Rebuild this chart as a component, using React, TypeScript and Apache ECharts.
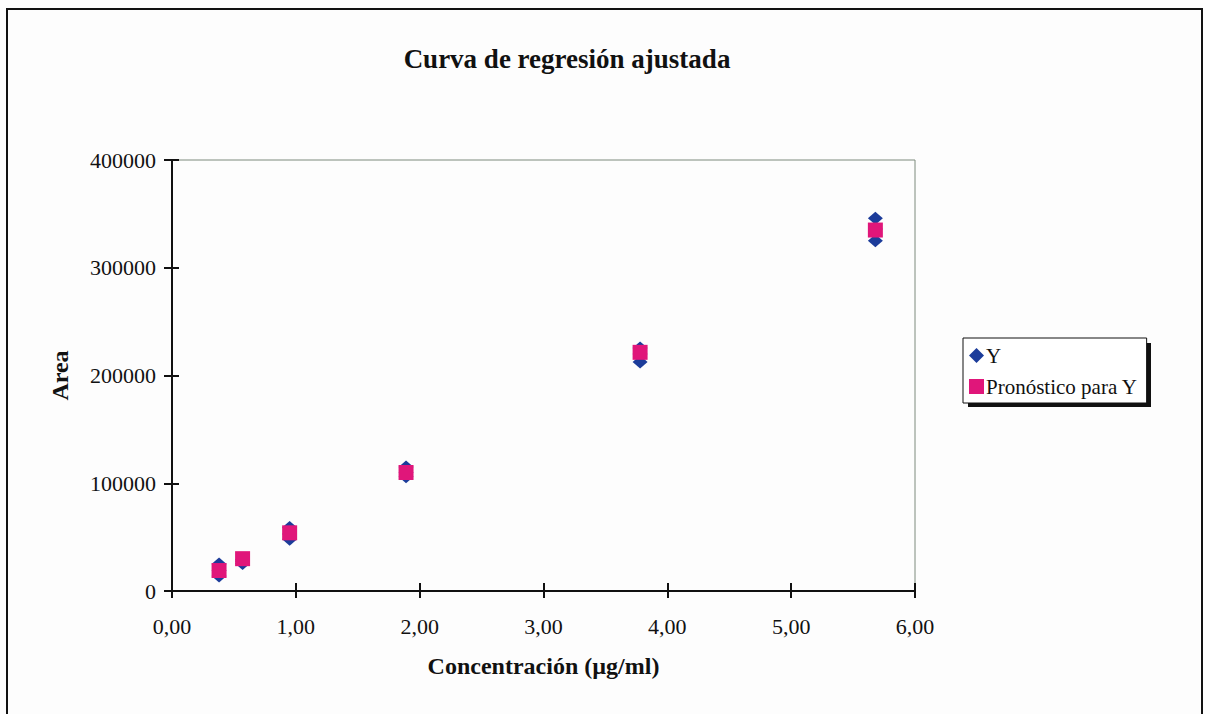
import React, { useEffect, useRef } from "react";
import * as echarts from "echarts";

const concentrations = [0.38, 0.57, 0.95, 1.89, 3.78, 5.68];
const areaRep1 = [25000, 25500, 59000, 115000, 225500, 346000];
const areaRep2 = [14000, 27500, 48000, 106000, 212500, 325000];
const areaRep3 = [19000, 29000, 53000, 110000, 220000, 336000];
const predicted = [19000, 30000, 54000, 110000, 221500, 335000];
const xTicks = [0, 1, 2, 3, 4, 5, 6];
const yTicks = [0, 100000, 200000, 300000, 400000];

const FONT = "'Liberation Serif', 'Times New Roman', serif";
const BLUE = "#1c3c9a";
const PINK = "#e0167a";

export default function App() {
  const ref = useRef<HTMLDivElement>(null);
  useEffect(() => {
    if (!ref.current) return;
    const chart = echarts.init(ref.current, undefined, { renderer: "svg" });
    const observed: number[][] = [];
    [areaRep1, areaRep2, areaRep3].forEach((rep) =>
      rep.forEach((v, i) => observed.push([concentrations[i], v]))
    );
    const pred = predicted.map((v, i) => [concentrations[i], v]);
    const xMin = xTicks[0];
    const xMax = xTicks[xTicks.length - 1];
    const yMin = yTicks[0];
    const yMax = yTicks[yTicks.length - 1];
    const xCommon = { type: "value", min: xMin, max: xMax, interval: 1, position: "bottom" };
    const yCommon = { type: "value", min: yMin, max: yMax, interval: 100000, position: "left" };
    const tickStyle = { color: "#111", width: 2 };
    chart.setOption({
      animation: false,
      backgroundColor: "#fdfdfd",
      title: {
        text: "Curva de regresión ajustada",
        left: 562,
        top: 40,
        textAlign: "center",
        textStyle: { fontFamily: FONT, fontWeight: "bold", fontSize: 27, color: "#111" },
      },
      legend: {
        orient: "vertical",
        left: 963,
        top: 338,
        padding: [7, 9, 6, 6],
        itemGap: 10,
        itemWidth: 15,
        itemHeight: 15,
        backgroundColor: "#ffffff",
        borderColor: "#111",
        borderWidth: 1,
        z: 10,
        textStyle: { fontFamily: FONT, fontSize: 21, color: "#111", padding: [0, 0, 0, -3] },
        data: [
          { name: "Y", icon: "diamond" },
          { name: "Pronóstico para Y", icon: "rect" },
        ],
      },
      graphic: [
        {
          type: "rect",
          z: 1,
          shape: { x: 7, y: 9, width: 1195, height: 720 },
          style: { fill: "none", stroke: "#111", lineWidth: 2 },
        },
        {
          type: "rect",
          z: 1,
          shape: { x: 968, y: 343, width: 183, height: 64 },
          style: { fill: "#111" },
        },
      ],
      grid: {
        left: 172,
        top: 160,
        right: 295,
        bottom: 123,
        show: true,
        borderColor: "#7d8a7d",
        borderWidth: 1,
        backgroundColor: "transparent",
      },
      xAxis: [
        {
          ...xCommon,
          name: "Concentración (µg/ml)",
          nameLocation: "middle",
          nameGap: 63,
          nameTextStyle: { fontFamily: FONT, fontWeight: "bold", fontSize: 24, color: "#111" },
          axisLine: { show: true, onZero: false, lineStyle: { color: "#111", width: 2 } },
          axisTick: { show: true, inside: false, length: 7, lineStyle: tickStyle },
          axisLabel: {
            fontFamily: FONT,
            fontSize: 22,
            color: "#111",
            margin: 24,
            formatter: (v: number) => v.toFixed(2).replace(".", ","),
          },
          splitLine: { show: false },
        },
        {
          ...xCommon,
          axisLine: { show: false, onZero: false },
          axisTick: { show: true, inside: true, length: 8, lineStyle: tickStyle },
          axisLabel: { show: false },
          splitLine: { show: false },
        },
      ],
      yAxis: [
        {
          ...yCommon,
          name: "Area",
          nameLocation: "middle",
          nameGap: 100,
          nameTextStyle: { fontFamily: FONT, fontWeight: "bold", fontSize: 24, color: "#111" },
          axisLine: { show: true, onZero: false, lineStyle: { color: "#111", width: 2 } },
          axisTick: { show: true, inside: false, length: 8, lineStyle: tickStyle },
          axisLabel: {
            fontFamily: FONT,
            fontSize: 22,
            color: "#111",
            margin: 16,
            formatter: (v: number) => String(v),
          },
          splitLine: { show: false },
        },
        {
          ...yCommon,
          axisLine: { show: false, onZero: false },
          axisTick: { show: true, inside: true, length: 7, lineStyle: tickStyle },
          axisLabel: { show: false },
          splitLine: { show: false },
        },
      ],
      series: [
        {
          name: "Y",
          type: "scatter",
          symbol: "diamond",
          symbolSize: [15, 13],
          itemStyle: { color: BLUE, opacity: 1 },
          data: observed,
          z: 3,
        },
        {
          name: "Pronóstico para Y",
          type: "scatter",
          symbol: "rect",
          symbolSize: 15,
          itemStyle: { color: PINK, opacity: 1 },
          data: pred,
          z: 4,
        },
        {
          name: "tickScale",
          type: "scatter",
          xAxisIndex: 1,
          yAxisIndex: 1,
          symbolSize: 0,
          silent: true,
          itemStyle: { opacity: 0 },
          data: pred,
        },
      ],
    });
    return () => chart.dispose();
  }, []);
  return <div ref={ref} style={{ width: 1210, height: 714, position: "fixed", left: 0, top: 0 }} />;
}
